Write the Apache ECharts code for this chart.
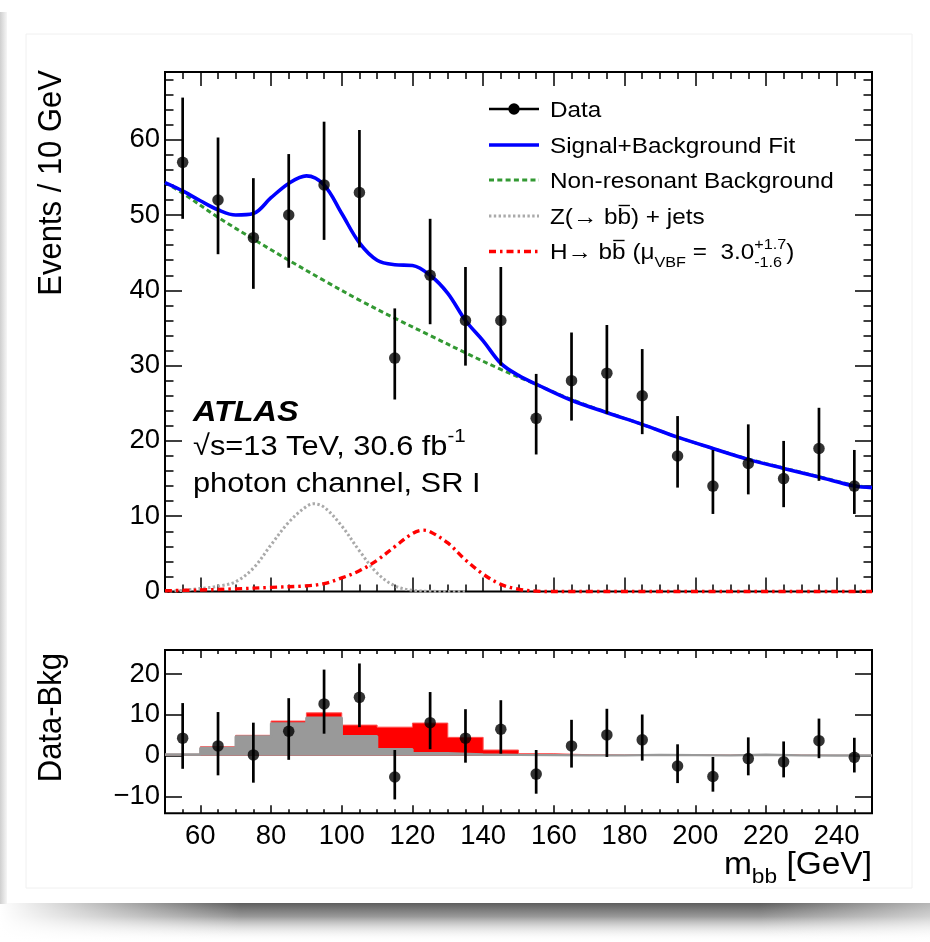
<!DOCTYPE html>
<html>
<head>
<meta charset="utf-8">
<title>ATLAS m_bb photon channel</title>
<script src="https://cdn.jsdelivr.net/npm/echarts@6/dist/echarts.min.js"></script>
<style>
html,body{margin:0;padding:0;background:#ffffff;}
#chart{width:930px;height:942px;}
</style>
</head>
<body>
<div id="chart"></div>
<script>
// ---------------- data ----------------
const binCenters   = [55,65,75,85,95,105,115,125,135,145,155,165,175,185,195,205,215,225,235,245];
const dataCounts   = [57,52,47,50,54,53,31,42,36,36,23,28,29,26,18,14,17,15,19,14];
const dataErrLow   = [49.5,44.8,40.2,43.0,46.7,45.7,25.5,35.5,30.0,30.0,18.2,22.7,23.6,20.9,13.8,10.3,12.9,11.2,14.7,10.3];
const dataErrHigh  = [65.6,60.3,54.9,58.1,62.4,61.3,37.6,49.5,43.1,43.1,28.9,34.4,35.4,32.2,23.3,18.8,22.2,20.0,24.4,18.8];
const residuals    = [4.3,2.4,0.2,6.0,12.7,14.3,-5.2,8.1,4.3,6.5,-4.5,2.4,5.1,3.9,-2.5,-5.1,-0.7,-1.5,3.7,-0.4];

const fitX = [50,55,60,65,70,75,80,85,90,95,100,105,110,115,120,125,130,135,140,145,150,155,165,175,185,195,205,215,225,235,245,250];
const fitY = [54.3,53.2,51.9,50.7,50.0,50.2,52.3,54.2,55.2,54.0,50.2,46.3,44.0,43.4,43.3,42.0,39.6,36.0,33.3,30.3,28.7,27.55,25.4,23.75,22.2,20.5,19.0,17.55,16.35,15.2,14.0,13.8];
const bkgX = [50,55,65,75,85,95,105,115,125,135,145,155,165,175,185,195,205,215,225,235,245,250];
const bkgY = [54.3,52.9,49.7,46.8,44.0,41.3,38.7,36.3,34.0,31.7,29.5,27.5,25.5,23.8,22.2,20.5,19.0,17.6,16.4,15.25,14.1,13.8];
const zX = [50,55,60,65,70,75,80,85,90,92,95,100,105,110,115,120,125,130,135];
const zY = [0.05,0.15,0.4,0.7,1.3,3.1,6.2,9.2,11.3,11.65,11.2,8.7,5.4,2.45,0.75,0.15,0.03,0,0];
const hX = [50,60,70,80,90,95,100,105,110,115,120,123,125,130,135,140,145,150,155,160,250];
const hY = [0.1,0.2,0.35,0.55,0.75,1.05,1.8,2.75,4.15,5.95,7.7,8.15,7.95,6.45,4.2,2.3,0.95,0.3,0.05,0,0];

const binLowEdges  = [50,60,70,80,90,100,110,120,130,140,150,160,170,180,190,200,210,220,230,240];
const binUpperEnd  = 250;
const zHist        = [0.3,1.9,4.7,7.9,9.3,4.8,1.6,0.6,0.3,0.2,0.15,0.1,0.1,0.2,0.15,0.1,0.25,0.1,0.05,0.05];
const sigTotalHist = [0.35,2.2,5.0,8.5,10.5,7.5,7.0,8.0,4.5,1.4,0.5,0.25,0.2,0.25,0.2,0.15,0.3,0.15,0.1,0.1];

const xTickLabels       = [60,80,100,120,140,160,180,200,220,240];
const yTickLabelsTop    = [0,10,20,30,40,50,60];
const yTickLabelsBottom = [-10,0,10,20];

// ---------------- helpers ----------------
const FONT = '"Liberation Sans", Arial, Helvetica, sans-serif';
const TICKFONT = '"Liberation Sans", Arial, sans-serif';
const SX = 1.08;
const zip = (a, b) => a.map((v, i) => [v, b[i]]);
const stepData = (edges, vals, end) => edges.map((e, i) => [e, vals[i]]).concat([[end, vals[vals.length - 1]]]);

const meas = document.createElement('canvas').getContext('2d');
function fontStr(f) { return (f.style || 'normal') + ' ' + (f.weight || 'normal') + ' ' + f.size + 'px ' + (f.family || FONT); }
function textW(t, f) { meas.font = fontStr(f); meas.textBaseline = 'alphabetic'; return meas.measureText(t).width; }
function midToBase(f) { meas.font = fontStr(f); meas.textBaseline = 'middle'; const d = meas.measureText('H').actualBoundingBoxDescent; meas.textBaseline = 'alphabetic'; return d; }

function layoutText(x, baseY, segs, def, rightAlign) {
  const sx = def.scaleX || SX;
  const items = [];
  let cx = 0, pendingMax = 0;
  for (const s of segs) {
    const f = { size: s.size || def.size, weight: s.weight || def.weight, style: s.style || def.style, family: s.family || def.family };
    const w = textW(s.t, f) * sx;
    items.push({ s, f, w, off: cx });
    if (s.noAdvance) { pendingMax = Math.max(pendingMax, w); }
    else { cx += Math.max(w, pendingMax); pendingMax = 0; }
  }
  const total = cx;
  const x0 = rightAlign ? x - total : x;
  const els = [];
  for (const it of items) {
    const b = baseY + (it.s.dy || 0);
    els.push({
      type: 'text', x: x0 + it.off, y: b - midToBase(it.f), scaleX: sx, silent: true,
      style: { text: it.s.t, fill: '#000', fontSize: it.f.size, fontFamily: it.f.family || FONT,
               fontWeight: it.f.weight || 'normal', fontStyle: it.f.style || 'normal',
               align: 'left', verticalAlign: 'middle' }
    });
    if (it.s.bar) {
      const yb = b - it.f.size * 0.80;
      els.push({ type: 'line', silent: true, shape: { x1: x0 + it.off + it.w * 0.08, y1: yb, x2: x0 + it.off + it.w * 0.92, y2: yb },
                 style: { stroke: '#000', lineWidth: 1.4 } });
    }
  }
  return els;
}

function errBar(params, api) {
  const x = api.value(0), lo = api.value(1), hi = api.value(2);
  const a = api.coord([x, lo]), b = api.coord([x, hi]);
  return { type: 'line', shape: { x1: a[0], y1: a[1], x2: b[0], y2: b[1] }, style: { stroke: '#000', lineWidth: 2.7 } };
}

// ---------------- layout ----------------
const G_LEFT = 165, G_WIDTH = 707;
const TOP_T = 72, TOP_H = 519.5, TOP_MAX = 69;
const BOT_T = 650, BOT_H = 163.3, BOT_MIN = -14.1, BOT_MAX = 25.9;

function tick(len, extra) { return Object.assign({ show: true, inside: true, length: len, lineStyle: { color: '#000', width: 1.5 } }, extra || {}); }
function xAx(grid, pos, len, custom, label) {
  return {
    type: 'value', gridIndex: grid, position: pos, min: 50, max: 250, interval: 5,
    axisLine: { show: false, onZero: false }, splitLine: { show: false },
    axisTick: tick(len, custom ? { customValues: custom } : {}),
    axisLabel: label || { show: false }
  };
}
function yAx(grid, pos, min, max, len, interval, custom, label) {
  const a = {
    type: 'value', gridIndex: grid, position: pos, min: min, max: max,
    axisLine: { show: false, onZero: false }, splitLine: { show: false },
    axisTick: tick(len, custom ? { customValues: custom } : {}),
    axisLabel: label || { show: false }
  };
  if (interval) a.interval = interval;
  return a;
}
const numFmt = v => (v < 0 ? '\u2212' + Math.abs(v) : String(v));
const tickLabel = (custom, margin) => ({ show: true, customValues: custom, margin: margin, fontFamily: TICKFONT, fontSize: 27.5, color: '#000', formatter: numFmt });

const xAxes = [
  xAx(0, 'bottom', 7), xAx(0, 'bottom', 14, xTickLabels), xAx(0, 'top', 7), xAx(0, 'top', 14, xTickLabels),
  xAx(1, 'bottom', 4), xAx(1, 'bottom', 8, xTickLabels, tickLabel(xTickLabels, 9)), xAx(1, 'top', 4), xAx(1, 'top', 8, xTickLabels)
];
const yAxes = [
  yAx(0, 'left', 0, TOP_MAX, 8.5, 2), yAx(0, 'left', 0, TOP_MAX, 17, 10, yTickLabelsTop, tickLabel(yTickLabelsTop, 5)),
  yAx(0, 'right', 0, TOP_MAX, 8.5, 2), yAx(0, 'right', 0, TOP_MAX, 17, 10, yTickLabelsTop),
  yAx(1, 'left', BOT_MIN, BOT_MAX, 17, null, yTickLabelsBottom, tickLabel(yTickLabelsBottom, 5)),
  yAx(1, 'right', BOT_MIN, BOT_MAX, 17, null, yTickLabelsBottom)
];

// ---------------- series ----------------
const GREEN = '#339933', GRAY = '#aaaaaa', RED = '#ff0000', BLUE = '#0000ff';
const series = [
  { type: 'line', name: 'Z', xAxisIndex: 0, yAxisIndex: 0, data: zip(zX, zY), smooth: 0.35, symbol: 'none', clip: false, z: 3,
    lineStyle: { color: GRAY, width: 3, type: [2.4, 2.4] } },
  { type: 'line', name: 'H', xAxisIndex: 0, yAxisIndex: 0, data: zip(hX, hY), smooth: 0.35, symbol: 'none', clip: false, z: 3,
    lineStyle: { color: RED, width: 3.4, type: [7, 4, 2.5, 4] } },
  { type: 'line', name: 'Bkg', xAxisIndex: 0, yAxisIndex: 0, data: zip(bkgX, bkgY), smooth: 0.35, symbol: 'none', z: 3,
    lineStyle: { color: GREEN, width: 3, type: [5, 3.3] } },
  { type: 'line', name: 'Fit', xAxisIndex: 0, yAxisIndex: 0, data: zip(fitX, fitY), smooth: 0.35, symbol: 'none', z: 4,
    lineStyle: { color: BLUE, width: 3.6 } },
  { type: 'custom', name: 'DataErr', xAxisIndex: 0, yAxisIndex: 0, z: 5,
    data: binCenters.map((x, i) => [x, dataErrLow[i], dataErrHigh[i]]), renderItem: errBar },
  { type: 'scatter', name: 'Data', xAxisIndex: 0, yAxisIndex: 0, z: 6, symbolSize: 11.5,
    data: zip(binCenters, dataCounts), itemStyle: { color: '#000' } },

  { type: 'line', name: 'SigTot', xAxisIndex: 4, yAxisIndex: 4, step: 'end', symbol: 'none', z: 2,
    data: stepData(binLowEdges, sigTotalHist, binUpperEnd),
    lineStyle: { color: '#ff5050', width: 1 }, areaStyle: { color: RED, opacity: 1 } },
  { type: 'line', name: 'ZHist', xAxisIndex: 4, yAxisIndex: 4, step: 'end', symbol: 'none', z: 3,
    data: stepData(binLowEdges, zHist, binUpperEnd),
    lineStyle: { color: '#999999', width: 2.4 }, areaStyle: { color: '#999999', opacity: 1 } },
  { type: 'custom', name: 'ResErr', xAxisIndex: 4, yAxisIndex: 4, z: 5,
    data: binCenters.map((x, i) => [x, residuals[i] - (dataCounts[i] - dataErrLow[i]), residuals[i] + (dataErrHigh[i] - dataCounts[i])]),
    renderItem: errBar },
  { type: 'scatter', name: 'Residual', xAxisIndex: 4, yAxisIndex: 4, z: 6, symbolSize: 11.5,
    data: zip(binCenters, residuals), itemStyle: { color: '#000' } }
];

// ---------------- graphic: legend, labels, titles, decoration ----------------
const LEG_X1 = 489, LEG_X2 = 539, LEG_TX = 550, LEG_SIZE = 22.5;
const graphics = [];
graphics.push({ type: 'rect', silent: true, z: -10, shape: { x: 0, y: 903, width: 930, height: 39 },
  style: { fill: new echarts.graphic.LinearGradient(0, 0, 0, 1, [
    { offset: 0, color: '#5e5e5e' }, { offset: 0.35, color: '#9a9a9a' }, { offset: 1, color: 'rgba(255,255,255,0)' }]) } });
graphics.push({ type: 'rect', silent: true, z: -9, shape: { x: 0, y: 900, width: 240, height: 42 },
  style: { fill: new echarts.graphic.LinearGradient(0, 0, 1, 0, [
    { offset: 0, color: 'rgba(255,255,255,1)' }, { offset: 1, color: 'rgba(255,255,255,0)' }]) } });
graphics.push({ type: 'rect', silent: true, z: -9, shape: { x: 760, y: 900, width: 170, height: 42 },
  style: { fill: new echarts.graphic.LinearGradient(0, 0, 1, 0, [
    { offset: 0, color: 'rgba(255,255,255,0)' }, { offset: 1, color: 'rgba(255,255,255,0.55)' }]) } });
graphics.push({ type: 'rect', silent: true, z: -9, shape: { x: 0, y: 12, width: 7, height: 892 },
  style: { fill: new echarts.graphic.LinearGradient(0, 0, 1, 0, [
    { offset: 0, color: '#cfcfcf' }, { offset: 1, color: '#f6f6f6' }]) } });
graphics.push({ type: 'rect', silent: true, z: -9, shape: { x: 26, y: 34, width: 886, height: 854 },
  style: { fill: 'none', stroke: '#f0f0f0', lineWidth: 1 } });

const rowsY = [109, 145, 180, 216, 251.5];
graphics.push({ type: 'line', silent: true, shape: { x1: LEG_X1, y1: rowsY[0], x2: LEG_X2, y2: rowsY[0] }, style: { stroke: '#000', lineWidth: 2.7 } });
graphics.push({ type: 'circle', silent: true, shape: { cx: (LEG_X1 + LEG_X2) / 2, cy: rowsY[0], r: 5.7 }, style: { fill: '#000' } });
graphics.push({ type: 'line', silent: true, shape: { x1: LEG_X1, y1: rowsY[1], x2: LEG_X2, y2: rowsY[1] }, style: { stroke: BLUE, lineWidth: 3.6 } });
graphics.push({ type: 'line', silent: true, shape: { x1: LEG_X1, y1: rowsY[2], x2: LEG_X2, y2: rowsY[2] }, style: { stroke: GREEN, lineWidth: 3, lineDash: [5, 3.3] } });
graphics.push({ type: 'line', silent: true, shape: { x1: LEG_X1, y1: rowsY[3], x2: LEG_X2, y2: rowsY[3] }, style: { stroke: GRAY, lineWidth: 3, lineDash: [2.4, 2.4] } });
graphics.push({ type: 'line', silent: true, shape: { x1: LEG_X1, y1: rowsY[4], x2: LEG_X2, y2: rowsY[4] }, style: { stroke: RED, lineWidth: 3.4, lineDash: [7, 4, 2.5, 4] } });

const legDef = { size: LEG_SIZE };
const legBase = [117, 152.5, 188, 223.5, 258.5];
graphics.push(...layoutText(LEG_TX, legBase[0], [{ t: 'Data' }], legDef));
graphics.push(...layoutText(LEG_TX, legBase[1], [{ t: 'Signal+Background Fit' }], legDef));
graphics.push(...layoutText(LEG_TX, legBase[2], [{ t: 'Non-resonant Background' }], legDef));
graphics.push(...layoutText(LEG_TX, legBase[3], [{ t: 'Z(\u2192 b' }, { t: 'b', bar: true }, { t: ') + jets' }], legDef));
graphics.push(...layoutText(LEG_TX, legBase[4], [
  { t: 'H\u2192 b' }, { t: 'b', bar: true }, { t: ' (\u03bc' }, { t: 'VBF', size: 15, dy: 8.5 }, { t: ' =  3.0' },
  { t: '+1.7', size: 15, dy: -10, noAdvance: true }, { t: '-1.6', size: 15, dy: 8.5 }, { t: ')' }], legDef));

graphics.push(...layoutText(193, 421, [{ t: 'ATLAS', size: 30, weight: 'bold', style: 'italic' }], { size: 30 }));
graphics.push(...layoutText(193, 455, [{ t: '\u221As=13 TeV, 30.6 fb' }, { t: '-1', size: 19, dy: -13 }], { size: 28.5 }));
graphics.push(...layoutText(193, 491.5, [{ t: 'photon channel, SR I' }], { size: 28.5 }));

graphics.push({ type: 'text', silent: true, x: 52, y: 70, rotation: Math.PI / 2, scaleY: 1.07,
  style: { text: 'Events / 10 GeV', fill: '#000', fontSize: 31, fontFamily: FONT, align: 'right', verticalAlign: 'middle' } });
graphics.push({ type: 'text', silent: true, x: 52, y: 653, rotation: Math.PI / 2, scaleY: 1.07,
  style: { text: 'Data-Bkg', fill: '#000', fontSize: 31, fontFamily: FONT, align: 'right', verticalAlign: 'middle' } });
graphics.push(...layoutText(872, 874, [{ t: 'm' }, { t: 'bb', size: 21, dy: 9 }, { t: ' [GeV]' }], { size: 31 }, true));

// ---------------- option ----------------
const option = {
  animation: false,
  backgroundColor: '#ffffff',
  textStyle: { fontFamily: FONT },
  grid: [
    { left: G_LEFT, width: G_WIDTH, top: TOP_T, height: TOP_H, show: true, borderColor: '#000', borderWidth: 2, backgroundColor: 'rgba(0,0,0,0)', containLabel: false },
    { left: G_LEFT, width: G_WIDTH, top: BOT_T, height: BOT_H, show: true, borderColor: '#000', borderWidth: 2, backgroundColor: 'rgba(0,0,0,0)', containLabel: false }
  ],
  xAxis: xAxes,
  yAxis: yAxes,
  series: series,
  graphic: { elements: graphics }
};

const chart = echarts.init(document.getElementById('chart'), null, { renderer: 'canvas' });
chart.setOption(option);
</script>
</body>
</html>
